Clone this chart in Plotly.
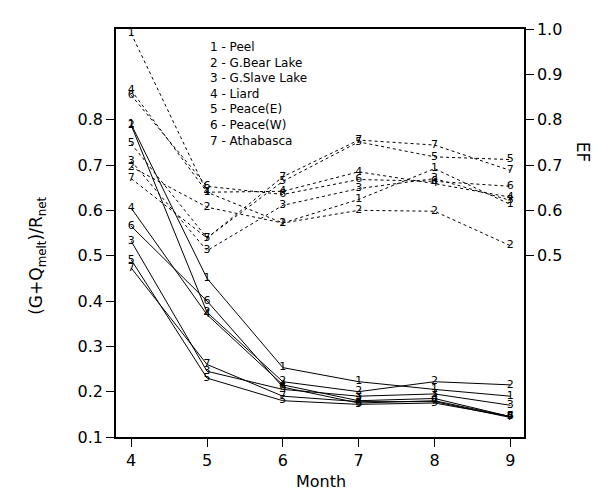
import plotly.graph_objects as go

months = [4, 5, 6, 7, 8, 9]
series_ids = ["1", "2", "3", "4", "5", "6", "7"]
legend_names = ["Peel", "G.Bear Lake", "G.Slave Lake", "Liard", "Peace(E)", "Peace(W)", "Athabasca"]

# (G+Qmelt)/Rnet  (left axis, solid lines)
ratio_1 = [0.79, 0.45, 0.253, 0.222, 0.205, 0.19]
ratio_2 = [0.788, 0.375, 0.222, 0.200, 0.222, 0.215]
ratio_3 = [0.532, 0.245, 0.205, 0.190, 0.195, 0.17]
ratio_4 = [0.605, 0.37, 0.215, 0.180, 0.185, 0.145]
ratio_5 = [0.491, 0.23, 0.18, 0.172, 0.175, 0.145]
ratio_6 = [0.565, 0.40, 0.21, 0.175, 0.18, 0.145]
ratio_7 = [0.473, 0.26, 0.19, 0.178, 0.178, 0.143]

# EF (right axis, dotted lines)
ef_1 = [0.99, 0.64, 0.572, 0.624, 0.692, 0.613]
ef_2 = [0.696, 0.607, 0.572, 0.600, 0.598, 0.522]
ef_3 = [0.709, 0.511, 0.611, 0.648, 0.670, 0.622]
ef_4 = [0.865, 0.640, 0.642, 0.685, 0.659, 0.629]
ef_5 = [0.747, 0.539, 0.664, 0.751, 0.718, 0.712]
ef_6 = [0.854, 0.653, 0.635, 0.668, 0.664, 0.653]
ef_7 = [0.670, 0.539, 0.674, 0.755, 0.744, 0.688]

ratios = [ratio_1, ratio_2, ratio_3, ratio_4, ratio_5, ratio_6, ratio_7]
efs = [ef_1, ef_2, ef_3, ef_4, ef_5, ef_6, ef_7]

FONT = "DejaVu Sans"
fig = go.Figure()

for sid, vals in zip(series_ids, ratios):
    fig.add_trace(go.Scatter(
        x=months, y=vals, mode="lines+text", text=[sid] * len(months),
        textposition="middle center", textfont=dict(family=FONT, size=11, color="black"),
        line=dict(color="black", width=1), yaxis="y", showlegend=False,
    ))

for sid, vals in zip(series_ids, efs):
    fig.add_trace(go.Scatter(
        x=months, y=vals, mode="lines+text", text=[sid] * len(months),
        textposition="middle center", textfont=dict(family=FONT, size=11, color="black"),
        line=dict(color="black", width=1, dash="dot"), yaxis="y2", showlegend=False,
    ))

legend_text = "<br>".join(f"{i} - {n}" for i, n in zip(series_ids, legend_names))
fig.add_annotation(
    xref="paper", yref="paper", x=(200 - 108) / 408, y=(428 - 25) / 412,
    xanchor="left", yanchor="top", align="left", showarrow=False,
    text=legend_text, font=dict(family=FONT, size=12, color="black"),
)

fig.add_annotation(
    xref="paper", yref="paper", x=(30 - 108) / 408, y=(428 - 245) / 412,
    xanchor="center", yanchor="middle", showarrow=False, textangle=-90,
    text="(G+Q<sub>melt</sub>)/R<sub>net</sub>", font=dict(family=FONT, size=17, color="black"),
)
fig.add_annotation(
    xref="paper", yref="paper", x=(575 - 108) / 408, y=(428 - 140) / 412,
    xanchor="center", yanchor="middle", showarrow=False, textangle=90,
    text="EF", font=dict(family=FONT, size=17, color="black"),
)
fig.add_annotation(
    xref="paper", yref="paper", x=(313 - 108) / 408, y=(428 - 473) / 412,
    xanchor="center", yanchor="middle", showarrow=False,
    text="Month", font=dict(family=FONT, size=16, color="black"),
)

axis_common = dict(showgrid=False, zeroline=False, showline=True, linecolor="black",
                   linewidth=1.5, ticks="outside", ticklen=8, tickcolor="black",
                   tickfont=dict(family=FONT, size=16, color="black"))

fig.update_layout(
    width=603, height=491,
    margin=dict(l=108, r=87, t=16, b=62),
    plot_bgcolor="white", paper_bgcolor="white",
    xaxis=dict(range=[3.8, 9.18], tickvals=months, mirror=True, **axis_common),
    yaxis=dict(range=[0.1, 1.0], tickvals=[0.1, 0.2, 0.3, 0.4, 0.5, 0.6, 0.7, 0.8],
               tickformat=".1f", **axis_common),
    yaxis2=dict(range=[0.1, 1.0], tickvals=[0.5, 0.6, 0.7, 0.8, 0.9, 1.0], tickformat=".1f",
                overlaying="y", side="right", **axis_common),
)

fig.write_html("out.html")
